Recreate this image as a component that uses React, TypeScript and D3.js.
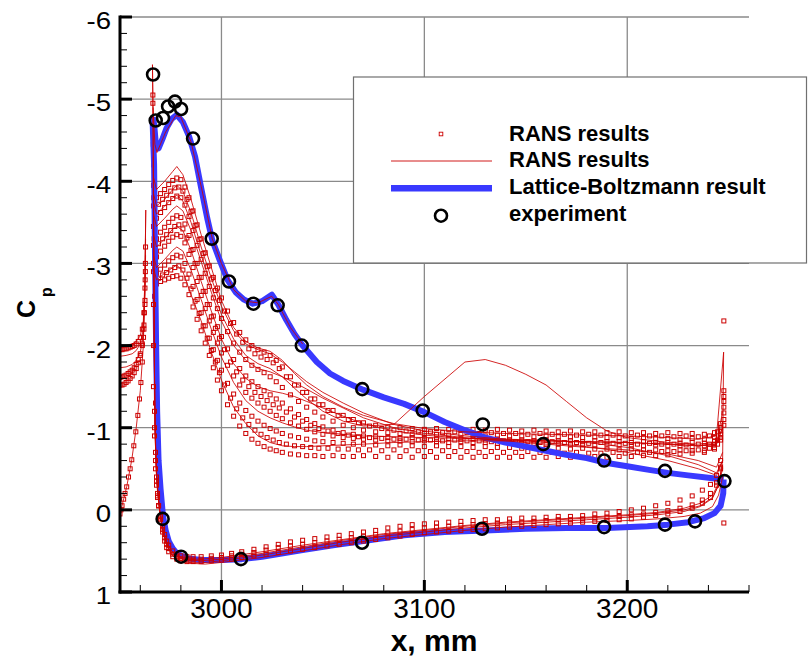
import React, { useEffect, useRef } from 'react';
import * as d3 from 'd3';

type Pt = [number, number];

// axis ticks
const yTicks = [-6, -5, -4, -3, -2, -1, 0, 1];
const xTicks = [3000, 3100, 3200];
const legendLabels = ['RANS results', 'RANS results', 'Lattice-Boltzmann result', 'experiment'];

// experiment (upper then lower surface)
const expX = [2966.3, 2967.6, 2971.2, 2973.7, 2977.1, 2980.1, 2986.0, 2995.2, 3003.7, 3015.7, 3027.7, 3039.6, 3069.4, 3099.2, 3128.8, 3158.6, 3188.6, 3218.6, 3247.9,
  2971.0, 2980.1, 3009.6, 3069.3, 3128.4, 3188.6, 3218.6, 3233.4];
const expCp = [-5.30, -4.74, -4.77, -4.91, -4.97, -4.88, -4.52, -3.30, -2.78, -2.51, -2.49, -2.00, -1.47, -1.21, -1.04, -0.80, -0.60, -0.475, -0.35,
  0.11, 0.57, 0.60, 0.40, 0.23, 0.21, 0.18, 0.14];

// Lattice-Boltzmann
const lbUpper: Pt[] = [[2966, -4.78], [2966.8, -4.70], [2967.8, -4.42], [2969, -4.40], [2971, -4.52], [2973, -4.65], [2975.5, -4.76], [2978, -4.81],
  [2981, -4.72], [2984, -4.55], [2987, -4.30], [2990, -3.92], [2993, -3.55], [2995.5, -3.28], [2999, -3.05], [3003, -2.80], [3007, -2.65],
  [3011, -2.56], [3015.5, -2.51], [3020, -2.54], [3024.8, -2.62], [3028, -2.50], [3032, -2.31], [3036, -2.14], [3040, -2.00], [3047, -1.80],
  [3053.5, -1.66], [3060, -1.57], [3070, -1.46], [3080, -1.37], [3090, -1.29], [3100, -1.19], [3110, -1.07], [3120, -0.97], [3130, -0.88],
  [3140, -0.82], [3150, -0.77], [3160, -0.72], [3170, -0.67], [3180, -0.63], [3190, -0.57], [3200, -0.53], [3210, -0.49], [3220, -0.45],
  [3230, -0.42], [3240, -0.39], [3247.5, -0.37]];
const lbLower: Pt[] = [[2966, -4.78], [2966.8, -4.2], [2967.3, -3.0], [2967.8, -2.0], [2968.3, -1.2], [2969, -0.6], [2970, -0.25], [2971.2, 0.08],
  [2972.5, 0.25], [2974, 0.38], [2976, 0.47], [2978, 0.53], [2983, 0.59], [2990, 0.61], [3000, 0.61], [3010, 0.60], [3020, 0.57], [3040, 0.49],
  [3055, 0.43], [3070, 0.38], [3090, 0.31], [3110, 0.27], [3130, 0.25], [3150, 0.23], [3170, 0.22], [3190, 0.22], [3210, 0.20], [3220, 0.18],
  [3230, 0.15], [3238, 0.10], [3243, 0.04], [3246, -0.05], [3247.3, -0.2], [3247.5, -0.37]];

// RANS symbols, upper surface
const ransUpperX = [2966.5, 2968, 2970, 2972, 2974, 2976, 2978, 2980, 2982, 2984, 2986, 2988, 2990, 2992, 2994, 2996, 2998, 3000,
  3003, 3006, 3009, 3012, 3015, 3018, 3021, 3024, 3027, 3030, 3034, 3038, 3042, 3046, 3050, 3055, 3060, 3065, 3070, 3076, 3082, 3088,
  3094, 3100, 3106, 3112, 3118, 3124, 3130, 3136, 3142, 3148, 3154, 3160, 3166, 3172, 3178, 3184, 3190, 3196, 3202, 3208, 3214, 3220,
  3226, 3232, 3238, 3243, 3246];
const ransU1 = [-3.95, -3.80, -3.85, -3.90, -3.96, -4.01, -4.04, -4.02, -3.93, -3.80, -3.64, -3.47, -3.30, -3.13, -2.97, -2.83, -2.70, -2.58,
  -2.42, -2.28, -2.16, -2.07, -2.00, -1.95, -1.92, -1.88, -1.82, -1.74, -1.62, -1.52, -1.43, -1.35, -1.28, -1.21, -1.15, -1.10, -1.06, -1.03,
  -1.01, -1.00, -0.99, -0.98, -0.99, -0.98, -0.97, -0.98, -0.97, -0.98, -0.97, -0.96, -0.97, -0.96, -0.95, -0.96, -0.95, -0.95, -0.94, -0.95,
  -0.94, -0.94, -0.93, -0.94, -0.93, -0.93, -0.92, -0.94, -1.05];
const ransU2 = [-3.70, -3.55, -3.62, -3.68, -3.74, -3.79, -3.82, -3.80, -3.71, -3.57, -3.40, -3.22, -3.05, -2.88, -2.72, -2.58, -2.45, -2.33,
  -2.17, -2.03, -1.92, -1.83, -1.76, -1.71, -1.67, -1.62, -1.56, -1.49, -1.40, -1.32, -1.25, -1.19, -1.13, -1.08, -1.03, -1.00, -0.97, -0.95,
  -0.94, -0.93, -0.92, -0.93, -0.92, -0.91, -0.92, -0.91, -0.90, -0.91, -0.90, -0.90, -0.89, -0.90, -0.89, -0.89, -0.88, -0.89, -0.88, -0.88,
  -0.87, -0.88, -0.87, -0.87, -0.86, -0.87, -0.86, -0.88, -1.00];
const ransU3 = [-3.45, -3.30, -3.38, -3.44, -3.50, -3.55, -3.58, -3.56, -3.48, -3.34, -3.17, -3.00, -2.83, -2.66, -2.50, -2.36, -2.23, -2.11,
  -1.96, -1.83, -1.72, -1.63, -1.56, -1.50, -1.45, -1.40, -1.35, -1.30, -1.23, -1.16, -1.10, -1.05, -1.01, -0.97, -0.94, -0.92, -0.90, -0.89,
  -0.88, -0.87, -0.88, -0.87, -0.86, -0.87, -0.86, -0.86, -0.85, -0.86, -0.85, -0.85, -0.84, -0.85, -0.84, -0.84, -0.83, -0.84, -0.83, -0.83,
  -0.82, -0.83, -0.82, -0.82, -0.81, -0.82, -0.81, -0.84, -0.96];
const ransU4 = [-3.22, -3.08, -3.15, -3.21, -3.27, -3.32, -3.35, -3.33, -3.25, -3.11, -2.95, -2.78, -2.61, -2.45, -2.30, -2.16, -2.03, -1.91,
  -1.76, -1.63, -1.52, -1.43, -1.36, -1.30, -1.25, -1.20, -1.15, -1.11, -1.06, -1.02, -0.98, -0.95, -0.92, -0.90, -0.88, -0.87, -0.86, -0.85,
  -0.84, -0.84, -0.83, -0.84, -0.83, -0.82, -0.83, -0.82, -0.82, -0.81, -0.82, -0.81, -0.81, -0.80, -0.81, -0.80, -0.80, -0.79, -0.80, -0.79,
  -0.79, -0.78, -0.79, -0.78, -0.78, -0.77, -0.78, -0.80, -0.92];
const ransU5 = [-3.00, -2.88, -2.93, -2.98, -3.03, -3.07, -3.10, -3.08, -3.00, -2.87, -2.72, -2.56, -2.40, -2.24, -2.09, -1.95, -1.82, -1.70,
  -1.54, -1.41, -1.30, -1.21, -1.14, -1.08, -1.03, -0.99, -0.96, -0.93, -0.90, -0.88, -0.86, -0.84, -0.83, -0.82, -0.81, -0.80, -0.80, -0.79,
  -0.78, -0.79, -0.78, -0.77, -0.78, -0.77, -0.77, -0.76, -0.77, -0.76, -0.76, -0.75, -0.76, -0.75, -0.75, -0.74, -0.75, -0.74, -0.74, -0.73,
  -0.74, -0.73, -0.73, -0.72, -0.73, -0.72, -0.72, -0.76, -0.88];
const ransU6 = [-2.90, -2.75, -2.78, -2.80, -2.82, -2.84, -2.85, -2.82, -2.74, -2.62, -2.47, -2.32, -2.18, -2.03, -1.88, -1.73, -1.58, -1.45,
  -1.28, -1.14, -1.02, -0.93, -0.86, -0.81, -0.77, -0.74, -0.72, -0.70, -0.68, -0.67, -0.66, -0.66, -0.65, -0.66, -0.65, -0.65, -0.66, -0.65,
  -0.64, -0.65, -0.64, -0.65, -0.64, -0.65, -0.64, -0.64, -0.65, -0.64, -0.64, -0.65, -0.64, -0.64, -0.65, -0.64, -0.64, -0.65, -0.64, -0.65,
  -0.65, -0.66, -0.66, -0.67, -0.68, -0.69, -0.70, -0.74, -0.85];

// RANS symbols, upper surface, second grid
const ransUpperX2 = [2967, 2969, 2971, 2973, 2975, 2977, 2979, 2981, 2983, 2985, 2987, 2989, 2991, 2993, 2995, 2997, 2999,
  3001.5, 3004.5, 3007.5, 3010.5, 3013.5, 3016.5, 3019.5, 3022.5, 3025.5, 3028.5, 3032, 3036, 3040, 3044, 3048, 3052.5, 3057.5,
  3062.5, 3067.5, 3073, 3079, 3085, 3091, 3097, 3103, 3109, 3115, 3121, 3127, 3133, 3139, 3145, 3151, 3157, 3163, 3169, 3175,
  3181, 3187, 3193, 3199, 3205, 3211, 3217, 3223, 3229, 3235, 3240.5, 3244.5];
const ransU7 = [-3.82, -3.72, -3.78, -3.83, -3.88, -3.92, -3.93, -3.88, -3.78, -3.63, -3.46, -3.29, -3.12, -2.96, -2.81, -2.67, -2.55,
  -2.42, -2.27, -2.14, -2.04, -1.96, -1.90, -1.86, -1.83, -1.79, -1.72, -1.62, -1.52, -1.43, -1.35, -1.28, -1.21, -1.15, -1.10, -1.06,
  -1.02, -0.99, -0.97, -0.96, -0.95, -0.95, -0.94, -0.95, -0.94, -0.93, -0.94, -0.93, -0.93, -0.92, -0.93, -0.92, -0.92, -0.91, -0.92,
  -0.91, -0.91, -0.90, -0.91, -0.90, -0.90, -0.89, -0.90, -0.89, -0.90, -0.95];
const ransU8 = [-3.33, -3.24, -3.30, -3.35, -3.40, -3.45, -3.47, -3.42, -3.31, -3.16, -3.00, -2.83, -2.66, -2.50, -2.35, -2.21, -2.09,
  -1.95, -1.80, -1.68, -1.58, -1.50, -1.43, -1.38, -1.33, -1.28, -1.24, -1.19, -1.13, -1.08, -1.03, -0.99, -0.96, -0.93, -0.91, -0.89,
  -0.88, -0.87, -0.86, -0.86, -0.85, -0.85, -0.84, -0.85, -0.84, -0.84, -0.83, -0.84, -0.83, -0.83, -0.82, -0.83, -0.82, -0.82, -0.81,
  -0.82, -0.81, -0.81, -0.80, -0.81, -0.80, -0.80, -0.79, -0.80, -0.80, -0.85];
const ransU9 = [-2.93, -2.82, -2.86, -2.89, -2.92, -2.95, -2.97, -2.92, -2.82, -2.69, -2.54, -2.39, -2.24, -2.09, -1.94, -1.80, -1.67,
  -1.52, -1.36, -1.23, -1.12, -1.04, -0.97, -0.92, -0.88, -0.85, -0.82, -0.80, -0.78, -0.77, -0.76, -0.75, -0.75, -0.74, -0.74, -0.73,
  -0.73, -0.72, -0.73, -0.72, -0.72, -0.71, -0.72, -0.71, -0.71, -0.70, -0.71, -0.70, -0.70, -0.71, -0.70, -0.70, -0.69, -0.70, -0.69,
  -0.69, -0.70, -0.69, -0.70, -0.70, -0.71, -0.71, -0.72, -0.73, -0.75, -0.80];

// RANS symbols, lower surface
const ransLowerX = [2966.5, 2967, 2967.5, 2968, 2968.5, 2969, 2970, 2971, 2972, 2973, 2974, 2976, 2978, 2980, 2983, 2986, 2990, 2995, 3000,
  3005, 3010, 3016, 3022, 3028, 3034, 3040, 3046, 3052, 3058, 3064, 3070, 3076, 3082, 3088, 3094, 3100, 3106, 3112, 3118, 3124, 3130, 3136,
  3142, 3148, 3154, 3160, 3166, 3172, 3178, 3184, 3190, 3196, 3202, 3208, 3214, 3220, 3226, 3232, 3237, 3241, 3244, 3246];
const ransL1 = [-1.5, -0.9, -0.5, -0.3, -0.15, -0.05, 0.08, 0.2, 0.3, 0.38, 0.43, 0.5, 0.54, 0.56, 0.57, 0.57, 0.57, 0.56, 0.55,
  0.53, 0.51, 0.48, 0.45, 0.42, 0.39, 0.37, 0.35, 0.33, 0.31, 0.29, 0.27, 0.25, 0.22, 0.20, 0.18, 0.17, 0.16, 0.15, 0.14, 0.13, 0.12, 0.12,
  0.11, 0.10, 0.10, 0.09, 0.08, 0.08, 0.07, 0.05, 0.04, 0.02, 0.00, -0.02, -0.05, -0.08, -0.12, -0.17, -0.24, -0.31, -0.42, -0.6];
const ransL2 = [-2.5, -1.2, -0.7, -0.4, -0.2, -0.05, 0.12, 0.27, 0.38, 0.46, 0.51, 0.57, 0.6, 0.62, 0.63, 0.63, 0.63, 0.62, 0.61,
  0.6, 0.58, 0.56, 0.54, 0.52, 0.5, 0.48, 0.46, 0.44, 0.42, 0.4, 0.38, 0.36, 0.34, 0.32, 0.3, 0.28, 0.27, 0.26, 0.25, 0.24, 0.23, 0.22,
  0.21, 0.2, 0.19, 0.18, 0.17, 0.16, 0.15, 0.14, 0.13, 0.12, 0.11, 0.09, 0.07, 0.05, 0.02, -0.02, -0.08, -0.15, -0.3, -0.5];
const ransL3 = [-2.0, -1.0, -0.6, -0.35, -0.17, -0.05, 0.1, 0.24, 0.34, 0.42, 0.47, 0.54, 0.57, 0.59, 0.6, 0.6, 0.6, 0.59, 0.58,
  0.56, 0.54, 0.52, 0.49, 0.46, 0.44, 0.42, 0.4, 0.38, 0.36, 0.34, 0.32, 0.3, 0.28, 0.26, 0.24, 0.22, 0.21, 0.2, 0.19, 0.18, 0.17, 0.16,
  0.15, 0.15, 0.14, 0.13, 0.12, 0.12, 0.11, 0.1, 0.09, 0.08, 0.06, 0.05, 0.03, 0.01, -0.02, -0.06, -0.12, -0.2, -0.33, -0.52];

// RANS symbols at leading edge, trailing edge and slat
const ransLeSymbols: Pt[] = [[2966.2, -5.05], [2966.2, -4.95], [2966.3, -4.7], [2966.4, -4.45], [2966.5, -4.2], [2966.6, -3.8],
  [2966.8, -3.3], [2967, -2.6], [2967.2, -2.0], [2967.5, -1.3]];
const ransTeSymbols: Pt[] = [[3247.6, -2.30], [3247.6, -1.45], [3247.6, -1.38], [3247.6, -1.32], [3247.6, -1.25], [3247.6, -1.18],
  [3247.6, -1.10], [3247.6, -1.03], [3247.6, 0.16]];
const slatSymbols1: Pt[] = [[2950, -1.95], [2951, -1.95], [2952, -1.96], [2953, -1.96], [2954, -1.97], [2955, -1.98], [2956, -1.99],
  [2957, -2.0], [2958, -2.02], [2959, -2.05], [2960, -2.1], [2961, -2.2], [2961.8, -2.4], [2962.3, -2.7], [2962.5, -3.0]];
const slatSymbols2: Pt[] = [[2950, -1.61], [2951, -1.62], [2952, -1.63], [2953, -1.64], [2954, -1.66], [2955, -1.68], [2956, -1.7],
  [2957, -1.73], [2958, -1.77], [2959, -1.83], [2960, -1.9], [2961, -2.02], [2961.8, -2.25], [2962.3, -2.55], [2962.5, -2.9]];
const slatSymbols3: Pt[] = [[2950, -1.52], [2951, -1.52], [2952, -1.53], [2953, -1.55], [2954, -1.57], [2955, -1.6], [2956, -1.63],
  [2957, -1.67], [2958, -1.72], [2959, -1.79], [2960, -1.88], [2961, -2.0], [2961.8, -2.2], [2962.3, -2.5]];
const slatSymbols4: Pt[] = [[2950, 0.05], [2950.5, 0.0], [2951, -0.05], [2951.8, -0.13], [2952.5, -0.2], [2953.3, -0.28], [2954.2, -0.4],
  [2955, -0.5], [2955.8, -0.61], [2956.8, -0.78], [2957.8, -0.95], [2958.8, -1.15], [2959.6, -1.35], [2960.3, -1.55], [2961, -1.8],
  [2961.6, -2.1], [2962, -2.4], [2962.4, -2.8], [2962.6, -3.2]];

// RANS lines, upper surface
const ransLine1: Pt[] = [[2966.5, -4.05], [2968, -3.9], [2972, -4.0], [2976, -4.12], [2978, -4.18], [2981, -4.08], [2985, -3.78], [2990, -3.35],
  [2995, -2.95], [3000, -2.55], [3006, -2.22], [3012, -2.05], [3018, -1.97], [3024, -1.93], [3030, -1.82], [3036, -1.66], [3042, -1.52],
  [3050, -1.38], [3060, -1.25], [3070, -1.15], [3085, -1.05], [3100, -0.99], [3120, -0.95], [3140, -0.93], [3160, -0.92], [3180, -0.91],
  [3200, -0.9], [3220, -0.88], [3235, -0.86], [3244, -0.9], [3247.5, -1.92]];
const ransLine2: Pt[] = [[2966.5, -3.85], [2968, -3.7], [2972, -3.78], [2976, -3.9], [2978, -3.95], [2981, -3.88], [2985, -3.62], [2990, -3.2],
  [2995, -2.82], [3000, -2.48], [3006, -2.18], [3012, -2.02], [3018, -1.95], [3024, -1.9], [3030, -1.8], [3036, -1.68], [3042, -1.56],
  [3050, -1.43], [3060, -1.3], [3070, -1.18], [3085, -1.04], [3100, -0.96], [3120, -0.9], [3140, -0.86], [3160, -0.82], [3180, -0.77],
  [3200, -0.7], [3220, -0.6], [3235, -0.5], [3244, -0.42], [3247, -0.6]];
const ransLine3: Pt[] = [[2966.5, -3.6], [2968, -3.45], [2972, -3.55], [2976, -3.66], [2978, -3.7], [2981, -3.64], [2985, -3.4], [2990, -3.02],
  [2995, -2.65], [3000, -2.3], [3006, -2.0], [3012, -1.82], [3018, -1.72], [3024, -1.68], [3030, -1.62], [3036, -1.55], [3042, -1.47],
  [3050, -1.36], [3060, -1.24], [3070, -1.12], [3085, -1.0], [3100, -0.93], [3120, -0.88], [3140, -0.84], [3160, -0.8], [3180, -0.76],
  [3200, -0.73], [3220, -0.68], [3235, -0.6], [3244, -0.52], [3247, -0.7]];
const ransLine4: Pt[] = [[2966.5, -3.35], [2968, -3.2], [2972, -3.3], [2976, -3.42], [2978, -3.45], [2981, -3.4], [2985, -3.16], [2990, -2.78],
  [2995, -2.42], [3000, -2.08], [3006, -1.78], [3012, -1.6], [3018, -1.5], [3024, -1.45], [3030, -1.42], [3036, -1.38], [3042, -1.32],
  [3050, -1.24], [3060, -1.14], [3070, -1.05], [3085, -0.96], [3100, -0.91], [3120, -0.87], [3140, -0.85], [3160, -0.84], [3180, -0.83],
  [3200, -0.82], [3220, -0.8], [3235, -0.78], [3244, -0.8], [3247, -1.2]];
const ransLine5: Pt[] = [[2966.5, -3.1], [2968, -2.95], [2972, -3.05], [2976, -3.16], [2978, -3.2], [2981, -3.15], [2985, -2.92], [2990, -2.56],
  [2995, -2.2], [3000, -1.86], [3006, -1.55], [3012, -1.33], [3018, -1.2], [3024, -1.12], [3030, -1.06], [3036, -1.01], [3042, -0.97],
  [3050, -0.94], [3060, -0.92], [3070, -0.9], [3085, -0.89], [3100, -0.88], [3120, -0.87], [3140, -0.86], [3160, -0.85], [3180, -0.82],
  [3200, -0.76], [3220, -0.66], [3235, -0.55], [3244, -0.45], [3247, -0.6]];
const ransLine6: Pt[] = [[2966.5, -2.95], [2968, -2.8], [2972, -2.88], [2976, -2.95], [2978, -2.98], [2981, -2.9], [2985, -2.62], [2990, -2.3],
  [2995, -1.92], [3000, -1.58], [3006, -1.25], [3012, -1.05], [3018, -0.9], [3024, -0.82], [3030, -0.78], [3036, -0.77], [3042, -0.77],
  [3050, -0.78], [3060, -0.79], [3070, -0.8], [3085, -0.82], [3100, -0.83], [3120, -0.84], [3140, -0.84], [3160, -0.84], [3180, -0.83],
  [3200, -0.82], [3220, -0.8], [3235, -0.78], [3244, -0.8], [3247, -1.0]];
const ransLine7: Pt[] = [[2966.5, -3.75], [2968, -3.6], [2972, -3.7], [2976, -3.8], [2978, -3.83], [2981, -3.76], [2985, -3.5], [2990, -3.1],
  [2995, -2.72], [3000, -2.38], [3006, -2.08], [3012, -1.88], [3018, -1.78], [3024, -1.72], [3030, -1.62], [3036, -1.48], [3042, -1.35],
  [3050, -1.2], [3060, -1.08], [3070, -1.02], [3085, -1.04], [3100, -1.38], [3120, -1.8], [3130, -1.83], [3140, -1.76], [3150, -1.65],
  [3160, -1.52], [3170, -1.32], [3180, -1.12], [3190, -0.96], [3200, -0.88], [3220, -0.82], [3235, -0.8], [3244, -0.82], [3247, -1.0]];
const ransLineLb: Pt[] = [[2966, -5.42], [2966.3, -4.9], [2967.2, -4.45], [2968.2, -4.35], [2972.5, -4.6], [2977.5, -4.8], [2980, -4.78],
  [2985, -4.48], [2990, -3.94], [2995.5, -3.3], [3000, -3.0], [3006, -2.68], [3012, -2.54], [3018, -2.52], [3024.8, -2.6], [3028, -2.5],
  [3034, -2.22], [3040, -2.02]];

// RANS lines, lower surface
const ransLowLine1: Pt[] = [[2966, -5.42], [2966.3, -4.6], [2966.6, -3.2], [2966.9, -2.0], [2967.2, -1.0], [2968, -0.4], [2969.5, 0.0],
  [2971, 0.25], [2973, 0.42], [2975.5, 0.54], [2979, 0.61], [2984, 0.64], [2990, 0.645], [3000, 0.62], [3020, 0.55], [3040, 0.47],
  [3060, 0.39], [3080, 0.32], [3100, 0.27], [3120, 0.22], [3140, 0.18], [3160, 0.15], [3180, 0.12], [3200, 0.09], [3215, 0.06],
  [3228, 0.02], [3236, -0.04], [3242, -0.14], [3245, -0.3], [3247, -0.6], [3247.5, -1.92]];
const ransLowLine2: Pt[] = [[2966.3, -4.9], [2966.7, -2.8], [2967.1, -1.3], [2967.8, -0.5], [2969.2, -0.05], [2970.8, 0.22], [2973, 0.4],
  [2975.5, 0.5], [2979, 0.57], [2984, 0.6], [2990, 0.6], [3000, 0.58], [3020, 0.51], [3040, 0.43], [3060, 0.36], [3080, 0.29], [3100, 0.24],
  [3120, 0.19], [3140, 0.15], [3160, 0.12], [3180, 0.09], [3200, 0.06], [3215, 0.03], [3228, -0.02], [3236, -0.08], [3242, -0.18],
  [3245, -0.32], [3247, -0.55]];
const ransLowLine3: Pt[] = [[2966.5, -3.8], [2967, -1.6], [2967.6, -0.7], [2968.5, -0.25], [2970, 0.1], [2972, 0.35], [2974.5, 0.52],
  [2978, 0.61], [2984, 0.65], [2992, 0.66], [3000, 0.64], [3020, 0.58], [3040, 0.5], [3060, 0.42], [3080, 0.35], [3100, 0.3], [3120, 0.25],
  [3140, 0.21], [3160, 0.18], [3180, 0.15], [3200, 0.13], [3215, 0.11], [3228, 0.08], [3236, 0.04], [3242, -0.04], [3245, -0.18], [3247, -0.4]];
const ransLowLine4: Pt[] = [[2966.4, -4.3], [2966.8, -2.2], [2967.3, -0.9], [2968.2, -0.3], [2969.8, 0.08], [2971.5, 0.3], [2974, 0.47],
  [2977, 0.56], [2982, 0.61], [2990, 0.62], [3000, 0.6], [3020, 0.53], [3040, 0.45], [3060, 0.37], [3080, 0.3], [3100, 0.25], [3120, 0.2],
  [3140, 0.16], [3160, 0.13], [3180, 0.1], [3200, 0.07], [3215, 0.04], [3228, 0.0], [3236, -0.05], [3242, -0.15], [3245, -0.3], [3247, -0.5]];

// RANS lines, slat
const slatLine1: Pt[] = [[2950, -1.99], [2953, -2.0], [2956, -2.02], [2958, -2.05], [2960, -2.12], [2961.5, -2.3], [2962.3, -2.8], [2962.7, -3.65]];
const slatLine2: Pt[] = [[2950, -1.87], [2953, -1.88], [2956, -1.9], [2958, -1.94], [2960, -2.02], [2961.5, -2.2], [2962.3, -2.7], [2962.6, -3.3]];
const slatLine3: Pt[] = [[2950, -1.73], [2953, -1.74], [2956, -1.77], [2958, -1.82], [2960, -1.92], [2961.5, -2.12], [2962.3, -2.6], [2962.6, -3.1]];
const slatLine4: Pt[] = [[2950, 0.05], [2951.5, -0.1], [2953.3, -0.28], [2955.8, -0.61], [2958, -1.0], [2960, -1.45], [2961.5, -2.0],
  [2962.3, -2.8], [2962.7, -3.65]];

const RED = '#cc0000';
const BLUE = '#3939ff';
const FONT = '"Liberation Sans", Arial, Helvetica, sans-serif';

const App = () => {
  const svgRef = useRef<SVGSVGElement>(null);

  useEffect(() => {
    const svg = d3.select(svgRef.current);
    svg.selectAll('*').remove();

    const x = d3.scaleLinear().domain([2950, 3260]).range([120, 749]);
    const y = d3.scaleLinear().domain([-6, 1]).range([17, 592]);
    const [x0, x1] = x.range();
    const [y0, y1] = y.range();

    svg.append('rect').attr('width', 809).attr('height', 659).attr('fill', 'white');

    // grid
    const grid = svg.append('g').attr('stroke', '#8a8a8a').attr('stroke-width', 1.3);
    grid.selectAll('.gh').data(yTicks.filter(d => d < 1)).join('line')
      .attr('x1', x0).attr('x2', x1).attr('y1', d => y(d)).attr('y2', d => y(d));
    grid.selectAll('.gv').data(xTicks).join('line')
      .attr('x1', d => x(d)).attr('x2', d => x(d)).attr('y1', y0).attr('y2', y1);

    svg.append('defs').append('clipPath').attr('id', 'plotclip')
      .append('rect').attr('x', x0).attr('y', y0 - 10).attr('width', x1 - x0 + 4).attr('height', y1 - y0 + 10);

    const plot = svg.append('g').attr('clip-path', 'url(#plotclip)');
    const line = d3.line<Pt>().x(d => x(d[0])).y(d => y(d[1]));

    const zipped = (xs: number[], cps: number[]): Pt[] => xs.map((v, i) => [v, cps[i]]);

    const symbols = (pts: Pt[]) => {
      plot.append('g').selectAll('rect').data(pts).join('rect')
        .attr('x', d => x(d[0]) - 2).attr('y', d => y(d[1]) - 2)
        .attr('width', 4).attr('height', 4)
        .attr('fill', 'none').attr('stroke', RED).attr('stroke-width', 1);
    };
    const redLine = (pts: Pt[]) => {
      plot.append('path').attr('d', line(pts)).attr('fill', 'none')
        .attr('stroke', RED).attr('stroke-width', 0.85);
    };

    // RANS symbols, upper surface
    [ransU1, ransU2, ransU3, ransU4, ransU5, ransU6].forEach(s => symbols(zipped(ransUpperX, s)));
    [ransU7, ransU8, ransU9].forEach(s => symbols(zipped(ransUpperX2, s)));
    [ransLeSymbols, ransTeSymbols, slatSymbols1, slatSymbols2, slatSymbols3, slatSymbols4].forEach(symbols);

    // Lattice-Boltzmann
    [lbUpper, lbLower].forEach(s => {
      plot.append('path').attr('d', line(s)).attr('fill', 'none')
        .attr('stroke', BLUE).attr('stroke-width', 6).attr('stroke-linejoin', 'round');
    });

    // RANS lines and lower-surface symbols
    [ransLine1, ransLine2, ransLine3, ransLine4, ransLine5, ransLine6, ransLine7, ransLineLb,
      ransLowLine1, ransLowLine2, ransLowLine3, ransLowLine4, slatLine1, slatLine2, slatLine3, slatLine4].forEach(redLine);
    [ransL1, ransL2, ransL3].forEach(s => symbols(zipped(ransLowerX, s)));

    // experiment
    plot.append('g').selectAll('circle').data(expX).join('circle')
      .attr('cx', d => x(d)).attr('cy', (d, i) => y(expCp[i])).attr('r', 6)
      .attr('fill', 'none').attr('stroke', 'black').attr('stroke-width', 2.6);

    // axes
    const ax = svg.append('g').attr('stroke', 'black');
    ax.append('line').attr('x1', x0).attr('x2', x0).attr('y1', y0 - 1.5).attr('y2', y1 + 1.5).attr('stroke-width', 3);
    ax.append('line').attr('x1', x0 - 1.5).attr('x2', x1).attr('y1', y1).attr('y2', y1).attr('stroke-width', 3);
    ax.selectAll('.ym').data(yTicks).join('line')
      .attr('x1', x0).attr('x2', x0 + 12).attr('y1', d => y(d)).attr('y2', d => y(d)).attr('stroke-width', 3);
    ax.selectAll('.yn').data(d3.range(-6, 1, 0.2).filter(d => Math.abs(d - Math.round(d)) > 0.01)).join('line')
      .attr('x1', x0).attr('x2', x0 + 7).attr('y1', d => y(d)).attr('y2', d => y(d)).attr('stroke-width', 1);
    ax.selectAll('.xm').data(xTicks).join('line')
      .attr('x1', d => x(d)).attr('x2', d => x(d)).attr('y1', y1).attr('y2', y1 - 12).attr('stroke-width', 3);
    ax.selectAll('.xn').data(d3.range(2960, 3261, 20).filter(d => d % 100 !== 0)).join('line')
      .attr('x1', d => x(d)).attr('x2', d => x(d)).attr('y1', y1).attr('y2', y1 - 7).attr('stroke-width', 1);

    // tick labels
    svg.append('g').selectAll('text').data(yTicks).join('text')
      .attr('transform', d => `translate(111,${y(d) + 12}) scale(1.2,1)`)
      .attr('text-anchor', 'end').attr('font-family', FONT).attr('font-size', 23)
      .text(d => String(d));
    svg.append('g').selectAll('text').data(xTicks).join('text')
      .attr('x', d => x(d)).attr('y', 618)
      .attr('text-anchor', 'middle').attr('font-family', FONT).attr('font-size', 28)
      .text(d => String(d));

    // axis titles
    svg.append('text').attr('x', 434).attr('y', 651)
      .attr('text-anchor', 'middle').attr('font-family', FONT).attr('font-size', 30).attr('font-weight', 'bold')
      .text('x, mm');
    svg.append('text').attr('transform', 'translate(35,318) rotate(-90)')
      .attr('font-family', FONT).attr('font-size', 25).attr('font-weight', 'bold').text('C');
    svg.append('text').attr('transform', 'translate(51.5,297) rotate(-90)')
      .attr('font-family', FONT).attr('font-size', 16).attr('font-weight', 'bold').text('p');

    // legend
    const lg = svg.append('g');
    lg.append('rect').attr('x', 353.5).attr('y', 77).attr('width', 453).attr('height', 186)
      .attr('fill', 'white').attr('stroke', '#707070').attr('stroke-width', 1.2);
    const rows = [140.7, 167.3, 194, 220.7];
    lg.selectAll('text').data(legendLabels).join('text')
      .attr('x', 509).attr('y', (d, i) => rows[i])
      .attr('font-family', FONT).attr('font-size', 22).attr('font-weight', 'bold')
      .text(d => d);
    lg.append('rect').attr('x', 441 - 1.8).attr('y', 134 - 1.8).attr('width', 3.6).attr('height', 3.6)
      .attr('fill', 'none').attr('stroke', RED).attr('stroke-width', 0.9);
    lg.append('line').attr('x1', 391).attr('x2', 492).attr('y1', 161).attr('y2', 161)
      .attr('stroke', RED).attr('stroke-width', 0.9);
    lg.append('line').attr('x1', 391).attr('x2', 492).attr('y1', 188.3).attr('y2', 188.3)
      .attr('stroke', BLUE).attr('stroke-width', 6.5);
    lg.append('circle').attr('cx', 441).attr('cy', 215.7).attr('r', 6)
      .attr('fill', 'none').attr('stroke', 'black').attr('stroke-width', 2.6);
  }, []);

  return (
    <svg ref={svgRef} width={809} height={659} style={{ position: 'absolute', left: 0, top: 0 }}></svg>
  );
};

export default App;
